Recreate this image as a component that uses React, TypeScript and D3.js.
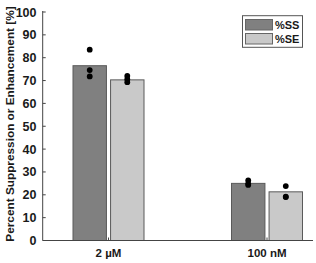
import React from "react";
import * as d3 from "d3";

const categories = ["2 µM", "100 nM"];
const series = ["%SS", "%SE"];
const meanSS = [76.5, 25.0];
const meanSE = [70.3, 21.3];
const pointsSS = [[83.5, 74.6, 71.8], [26.3, 24.8, 24.3]];
const pointsSE = [[72.0, 70.6, 69.3], [23.8, 19.2, 19.0]];
const yTicks = [0, 10, 20, 30, 40, 50, 60, 70, 80, 90, 100];
const colors = ["#808080", "#c9c9c9"];

const W = 316, H = 263;
const left = 42.7, right = 313, top = 12, bottom = 240.5;

export default function App() {
  const y = d3.scaleLinear().domain([0, 100]).range([bottom, top]);
  const x = d3.scalePoint<string>().domain(categories).range([108.5, 267]);
  const inner = d3.scaleBand<string>().domain(series).range([-35.5, 35.5]).paddingInner(0.11).paddingOuter(0);
  const means = [meanSS, meanSE];
  const pts = [pointsSS, pointsSE];
  const font = "Arial, 'Liberation Sans', sans-serif";
  return (
    <svg width={W} height={H} style={{ position: "absolute", left: 0, top: 0 }} fontFamily={font}>
      <rect width={W} height={H} fill="#fff" />
      {categories.map((c, ci) =>
        series.map((s, si) => {
          const bx = (x(c) as number) + (inner(s) as number);
          const bw = inner.bandwidth();
          return (
            <g key={c + s}>
              <rect x={bx} y={y(means[si][ci])} width={bw} height={y(0) - y(means[si][ci])}
                fill={colors[si]} stroke="#5a5a5a" strokeWidth={1} />
              {pts[si][ci].map((v, k) => (
                <circle key={k} cx={bx + bw / 2} cy={y(v)} r={2.9} fill="#000" />
              ))}
            </g>
          );
        })
      )}
      <line x1={left} x2={left} y1={top - 1} y2={bottom} stroke="#444" strokeWidth={1} />
      <line x1={left} x2={right} y1={bottom} y2={bottom} stroke="#444" strokeWidth={1} />
      {yTicks.map((t) => (
        <g key={t}>
          <line x1={left} x2={left + 3} y1={y(t)} y2={y(t)} stroke="#444" />
          <text x={36.5} y={y(t)} dy="0.36em" textAnchor="end" fontSize={12.5} fontWeight="bold" fill="#1a1a1a">{t}</text>
        </g>
      ))}
      {categories.map((c) => {
        const cx = x(c) as number;
        return (
          <g key={c}>
            <line x1={cx} x2={cx} y1={bottom} y2={bottom - 3} stroke="#444" />
            <text x={cx} y={257} textAnchor="middle" fontSize={11.5} fontWeight="bold" fill="#1a1a1a">{c}</text>
          </g>
        );
      })}
      <text transform={`translate(13.5,124) rotate(-90)`} textAnchor="middle" fontSize={11.8} fontWeight="bold" fill="#1a1a1a">
        Percent Suppression or Enhancement [%]
      </text>
      <rect x={242.5} y={15.7} width={60} height={31.6} fill="#fff" stroke="#555" strokeWidth={1} />
      {series.map((s, si) => (
        <g key={s}>
          <rect x={245.5} y={19.5 + si * 14} width={27} height={10.5} fill={colors[si]} stroke="#666" strokeWidth={1} />
          <text x={275} y={25 + si * 14} dy="0.36em" fontSize={11} fontWeight="bold" fill="#1a1a1a">{s}</text>
        </g>
      ))}
    </svg>
  );
}
